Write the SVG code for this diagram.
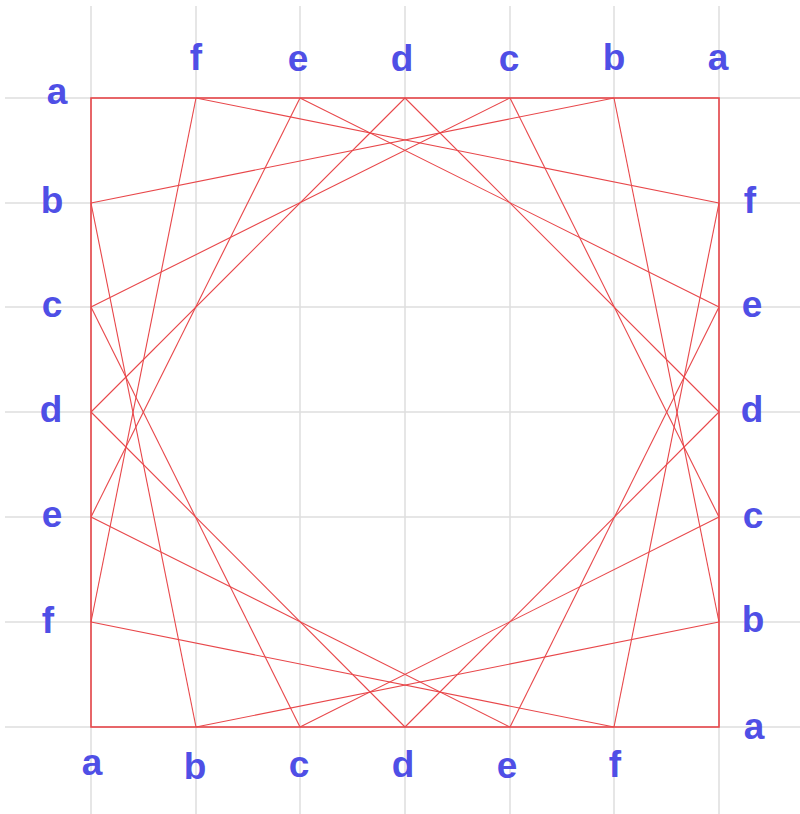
<svg xmlns="http://www.w3.org/2000/svg" width="800" height="814" viewBox="0 0 800 814">
<style>
.grid line{stroke:#dedede;stroke-width:1.5}
.conn line{stroke:#e8474a;stroke-width:1.1}
.sq{fill:none;stroke:#e8474a;stroke-width:1.6}
text{font-family:"Liberation Sans",Arial,sans-serif;font-weight:bold;font-size:37px;fill:#4f4fe6;text-anchor:middle}
</style>
<rect width="800" height="814" fill="#ffffff"/>
<g class="grid">
<line x1="91" y1="6" x2="91" y2="814"/>
<line x1="196" y1="6" x2="196" y2="814"/>
<line x1="300" y1="6" x2="300" y2="814"/>
<line x1="405" y1="6" x2="405" y2="814"/>
<line x1="510" y1="6" x2="510" y2="814"/>
<line x1="614" y1="6" x2="614" y2="814"/>
<line x1="719" y1="6" x2="719" y2="814"/>
<line x1="5" y1="98" x2="800" y2="98"/>
<line x1="5" y1="203" x2="800" y2="203"/>
<line x1="5" y1="307" x2="800" y2="307"/>
<line x1="5" y1="412" x2="800" y2="412"/>
<line x1="5" y1="517" x2="800" y2="517"/>
<line x1="5" y1="622" x2="800" y2="622"/>
<line x1="5" y1="727" x2="800" y2="727"/>
</g>
<g id="square"><rect class="sq" x="91" y="98" width="628" height="629"/></g>
<g class="conn" id="connectors">
<line x1="91" y1="203" x2="614" y2="98"/>
<line x1="91" y1="307" x2="510" y2="98"/>
<line x1="91" y1="412" x2="405" y2="98"/>
<line x1="91" y1="517" x2="300" y2="98"/>
<line x1="91" y1="622" x2="196" y2="98"/>
<line x1="91" y1="203" x2="196" y2="727"/>
<line x1="91" y1="307" x2="300" y2="727"/>
<line x1="91" y1="412" x2="405" y2="727"/>
<line x1="91" y1="517" x2="510" y2="727"/>
<line x1="91" y1="622" x2="614" y2="727"/>
<line x1="196" y1="98" x2="719" y2="203"/>
<line x1="300" y1="98" x2="719" y2="307"/>
<line x1="405" y1="98" x2="719" y2="412"/>
<line x1="510" y1="98" x2="719" y2="517"/>
<line x1="614" y1="98" x2="719" y2="622"/>
<line x1="196" y1="727" x2="719" y2="622"/>
<line x1="300" y1="727" x2="719" y2="517"/>
<line x1="405" y1="727" x2="719" y2="412"/>
<line x1="510" y1="727" x2="719" y2="307"/>
<line x1="614" y1="727" x2="719" y2="203"/>
</g>
<g id="labels-top">
<text x="196" y="70">f</text>
<text x="298" y="71">e</text>
<text x="402" y="71">d</text>
<text x="509" y="71">c</text>
<text x="614" y="70">b</text>
<text x="718" y="70">a</text>
</g>
<g id="labels-left">
<text x="57" y="104">a</text>
<text x="52" y="213">b</text>
<text x="52" y="317">c</text>
<text x="51" y="422">d</text>
<text x="52" y="527">e</text>
<text x="48" y="633">f</text>
</g>
<g id="labels-right">
<text x="750" y="213">f</text>
<text x="752" y="317">e</text>
<text x="752" y="422">d</text>
<text x="753" y="528">c</text>
<text x="753" y="632">b</text>
<text x="754" y="739">a</text>
</g>
<g id="labels-bottom">
<text x="92" y="775">a</text>
<text x="195" y="779">b</text>
<text x="299" y="777">c</text>
<text x="403" y="777">d</text>
<text x="507" y="778">e</text>
<text x="615" y="777">f</text>
</g>
</svg>
